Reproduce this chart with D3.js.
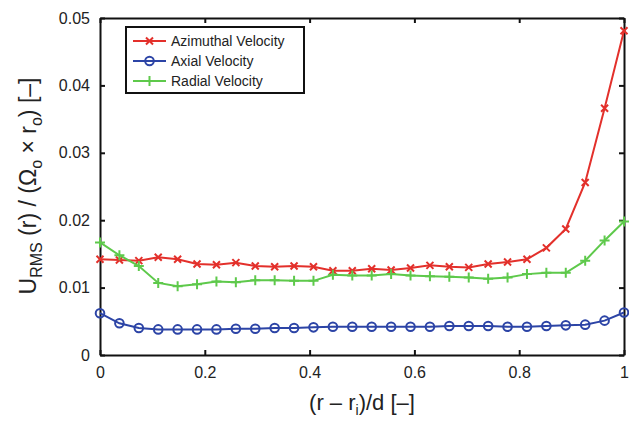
<!DOCTYPE html>
<html>
<head>
<meta charset="utf-8">
<script src="https://cdn.jsdelivr.net/npm/d3@7"></script>
<style>
  body { margin: 0; background: #fff; }
  svg text { font-family: "Liberation Sans", Arial, sans-serif; fill: #222; }
</style>
</head>
<body>
<svg id="chart" width="629" height="421"></svg>
<script>
// radial position, 28 stations from inner to outer cylinder
const xs = d3.range(28).map(i => i / 27);

// RMS velocity values
const azimuthal = [0.0142, 0.0141, 0.0140, 0.0145, 0.0142, 0.0135, 0.0134, 0.0137, 0.0132, 0.0131,
  0.0132, 0.0131, 0.0125, 0.0125, 0.0128, 0.0126, 0.0129, 0.0133, 0.0131, 0.0130,
  0.0135, 0.0138, 0.0142, 0.0159, 0.0187, 0.0256, 0.0366, 0.0481];
const axial = [0.0062, 0.0047, 0.0040, 0.0038, 0.0038, 0.0038, 0.0038, 0.0039, 0.0039, 0.0040,
  0.0040, 0.0041, 0.0042, 0.0042, 0.0042, 0.0042, 0.0042, 0.0042, 0.0043, 0.0043,
  0.0043, 0.0042, 0.0042, 0.0043, 0.0044, 0.0045, 0.0051, 0.0063];
const radial = [0.0167, 0.0148, 0.0132, 0.0107, 0.0102, 0.0105, 0.0109, 0.0108, 0.0111, 0.0111,
  0.0110, 0.0110, 0.0119, 0.0118, 0.0118, 0.0120, 0.0118, 0.0117, 0.0116, 0.0115,
  0.0113, 0.0115, 0.0120, 0.0122, 0.0122, 0.0140, 0.0170, 0.0198];

const seriesNames = ["Azimuthal Velocity", "Axial Velocity", "Radial Velocity"];
const seriesColors = ["#e3302b", "#2c44a6", "#5ec94b"];
const xTicks = [0, 0.2, 0.4, 0.6, 0.8, 1];
const yTicks = [0, 0.01, 0.02, 0.03, 0.04, 0.05];

const svg = d3.select("#chart");
const m = { left: 100, right: 624, top: 18, bottom: 355 };

const x = d3.scaleLinear().domain([0, 1]).range([m.left, m.right]);
const y = d3.scaleLinear().domain([0, 0.05]).range([m.bottom, m.top]);

// frame with inward ticks on all four sides (matlab look)
const axisG = svg.append("g");
axisG.append("g").attr("transform", `translate(0,${m.bottom})`)
  .call(d3.axisBottom(x).tickValues(xTicks).tickSizeInner(-5).tickSizeOuter(0).tickPadding(12)
    .tickFormat(d => d3.format("")(d)));
axisG.append("g").attr("transform", `translate(0,${m.top})`)
  .call(d3.axisTop(x).tickValues(xTicks).tickSizeInner(-5).tickSizeOuter(0).tickFormat(""));
axisG.append("g").attr("transform", `translate(${m.left},0)`)
  .call(d3.axisLeft(y).tickValues(yTicks).tickSizeInner(-5).tickSizeOuter(0).tickPadding(10)
    .tickFormat(d => d3.format("")(+d.toFixed(2))));
axisG.append("g").attr("transform", `translate(${m.right},0)`)
  .call(d3.axisRight(y).tickValues(yTicks).tickSizeInner(-5).tickSizeOuter(0).tickFormat(""));
axisG.selectAll(".domain").attr("stroke", "#111").attr("stroke-width", 2);
axisG.selectAll(".tick line").attr("stroke", "#111").attr("stroke-width", 2);
axisG.selectAll(".tick text").attr("font-size", 16).attr("fill", "#222");

// series
const data = [azimuthal, axial, radial];
const line = d3.line().x((d, i) => x(xs[i])).y(d => y(d));

function drawMarker(g, kind, color) {
  if (kind === 0) {
    g.append("path").attr("d", "M-3.5,-3.5L3.5,3.5M-3.5,3.5L3.5,-3.5")
      .attr("stroke", color).attr("stroke-width", 2);
  } else if (kind === 1) {
    g.append("circle").attr("r", 4.3).attr("fill", "none")
      .attr("stroke", color).attr("stroke-width", 2);
  } else {
    g.append("path").attr("d", "M-5,0L5,0M0,-5L0,5")
      .attr("stroke", color).attr("stroke-width", 2);
  }
}

data.forEach((vals, k) => {
  const g = svg.append("g");
  g.append("path").datum(vals).attr("d", line).attr("fill", "none")
    .attr("stroke", seriesColors[k]).attr("stroke-width", 2);
  vals.forEach((v, i) => {
    drawMarker(g.append("g").attr("transform", `translate(${x(xs[i])},${y(v)})`), k, seriesColors[k]);
  });
});

// legend
const legend = svg.append("g").attr("transform", "translate(126,27)");
legend.append("rect").attr("width", 178).attr("height", 66)
  .attr("fill", "#fff").attr("stroke", "#111").attr("stroke-width", 2);
seriesNames.forEach((name, k) => {
  const row = legend.append("g").attr("transform", `translate(0,${14 + k * 20})`);
  row.append("line").attr("x1", 7).attr("x2", 40).attr("stroke", seriesColors[k]).attr("stroke-width", 2);
  drawMarker(row.append("g").attr("transform", "translate(23.5,0)"), k, seriesColors[k]);
  row.append("text").attr("x", 45).attr("y", 5).attr("font-size", 14).text(name);
});

// axis titles
svg.append("text").attr("x", 362).attr("y", 410).attr("text-anchor", "middle").attr("font-size", 22)
  .html('(r – r<tspan dy="5" font-size="14">i</tspan><tspan dy="-5">)/d [–]</tspan>');
svg.append("text").attr("transform", "translate(36,186) rotate(-90)").attr("text-anchor", "middle")
  .attr("font-size", 23)
  .html('U<tspan dy="6" font-size="16">RMS</tspan><tspan dy="-6"> (r) / (Ω</tspan><tspan dy="6" font-size="16">o</tspan><tspan dy="-6"> × r</tspan><tspan dy="6" font-size="16">o</tspan><tspan dy="-6">) [–]</tspan>');
</script>
</body>
</html>
